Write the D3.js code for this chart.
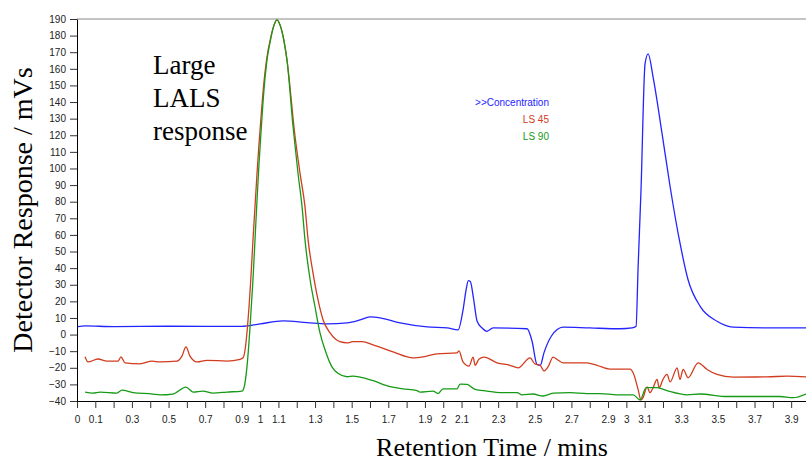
<!DOCTYPE html>
<html>
<head>
<meta charset="utf-8">
<script src="https://cdn.jsdelivr.net/npm/d3@7"></script>
<style>
  body { margin: 0; background: #fff; }
  svg { display: block; }
  .tick text { font-family: "Liberation Sans", Arial, sans-serif; font-size: 10px; fill: #222; }
  .title { font-family: "Liberation Serif", "Times New Roman", serif; fill: #000; }
</style>
</head>
<body>
<div id="chart"></div>
<script>
// retention time (mins) / detector response (mVs)
var concentration = [
    [0.005, 4.8], [0.044, 5.2], [0.2, 4.8], [0.5, 5], [0.9, 4.9], [0.999, 6.4],
    [1.125, 8.2], [1.256, 7.2], [1.365, 6.4], [1.475, 7], [1.546, 8.8], [1.600, 10.6],
    [1.655, 10], [1.764, 7], [1.912, 4.6], [2.021, 4], [2.081, 2.8], [2.108, 14.7],
    [2.125, 27], [2.137, 32.5], [2.148, 32], [2.165, 22], [2.185, 8], [2.212, 4],
    [2.239, 2], [2.272, 4], [2.458, 3.5], [2.485, -4], [2.512, -18], [2.530, -18.5],
    [2.55, -11], [2.59, -1], [2.622, 3], [2.654, 4.5], [2.8, 4], [2.966, 3.5], [3.031, 4],
    [3.053, 5], [3.064, 40], [3.080, 87], [3.102, 163], [3.119, 169], [3.146, 155],
    [3.195, 121], [3.239, 89], [3.293, 55], [3.337, 33], [3.403, 17], [3.495, 8],
    [3.583, 4.5], [3.768, 4], [3.981, 4]
];

var ls45 = [
    [0.044, -13.4], [0.060, -16.5], [0.115, -14.7], [0.164, -16], [0.224, -16], [0.240, -13.4],
    [0.262, -17], [0.344, -17.6], [0.410, -16], [0.453, -16.5], [0.546, -16], [0.573, -13],
    [0.595, -7.4], [0.617, -13], [0.655, -16.5], [0.710, -15.5], [0.819, -16], [0.890, -15],
    [0.907, -14], [0.918, -9], [0.934, 8.8], [0.950, 35], [0.961, 57], [0.972, 77],
    [0.983, 97], [0.994, 115], [1.005, 131], [1.02, 151], [1.036, 166], [1.058, 179],
    [1.075, 186], [1.092, 189.5], [1.11, 186], [1.13, 177], [1.147, 165], [1.19, 120],
    [1.218, 97], [1.245, 77], [1.262, 57], [1.289, 37], [1.316, 21], [1.344, 8.8], [1.382, 1],
    [1.436, -4.3], [1.475, -5], [1.507, -4.3], [1.557, -4.3], [1.617, -6.2], [1.726, -10.4],
    [1.835, -14], [1.890, -13.4], [1.966, -11.6], [2.075, -11], [2.086, -9.8], [2.108, -16.5],
    [2.141, -19], [2.163, -13.6], [2.174, -18.5], [2.195, -14.8], [2.223, -13.6], [2.294, -17],
    [2.365, -18.5], [2.409, -20], [2.474, -14], [2.501, -17.7], [2.529, -18.5], [2.550, -21.9],
    [2.572, -19.5], [2.600, -13.6], [2.622, -15], [2.654, -17], [2.785, -17], [2.840, -18.5],
    [2.911, -20.8], [3.020, -20.8], [3.037, -23], [3.064, -33], [3.080, -39.4], [3.091, -38],
    [3.113, -31.5], [3.129, -35], [3.146, -32], [3.168, -27], [3.179, -32], [3.200, -27],
    [3.222, -24], [3.239, -28.5], [3.277, -20], [3.293, -27], [3.310, -21], [3.337, -26],
    [3.392, -17], [3.441, -21], [3.495, -24], [3.583, -25.6], [3.768, -25.5], [3.878, -25],
    [3.981, -25.5]
];

var ls90 = [
    [0.044, -34.6], [0.087, -35.2], [0.126, -34.6], [0.218, -35.2], [0.246, -33.4], [0.306, -35],
    [0.415, -35.8], [0.453, -36.3], [0.524, -35.8], [0.595, -31.6], [0.634, -34.6], [0.688, -34],
    [0.743, -35.2], [0.819, -34.6], [0.901, -34], [0.912, -32], [0.928, -19.6], [0.945, 4.6],
    [0.961, 33], [0.972, 57], [0.983, 81], [0.994, 103], [1.005, 122], [1.02, 146],
    [1.036, 164], [1.058, 178], [1.075, 186], [1.092, 189.5], [1.11, 186], [1.13, 177],
    [1.147, 165], [1.18, 125], [1.207, 97], [1.229, 77], [1.245, 57], [1.273, 33], [1.300, 16.6],
    [1.327, 1], [1.354, -9], [1.393, -19.6], [1.425, -23.3], [1.475, -25.4], [1.507, -25],
    [1.546, -25.6], [1.617, -27.8], [1.709, -31.4], [1.780, -32.7], [1.857, -33.8], [1.873, -34.6],
    [1.944, -34], [1.972, -35.5], [1.999, -32.7], [2.075, -32.7], [2.092, -29.8], [2.130, -30],
    [2.174, -33], [2.239, -34], [2.310, -35], [2.403, -35], [2.430, -36.3], [2.490, -35.8],
    [2.545, -37], [2.600, -35.3], [2.692, -35], [2.785, -35.5], [2.856, -35.5], [2.949, -36.3],
    [3.037, -36.3], [3.075, -39.4], [3.108, -32], [3.168, -32], [3.222, -33.8], [3.332, -36.3],
    [3.403, -35.8], [3.550, -37.3], [3.692, -37.3], [3.839, -37.3], [3.911, -38], [3.981, -35.8]
];

var xLabels = [0, 0.1, 0.3, 0.5, 0.7, 0.9, 1, 1.1, 1.3, 1.5, 1.7, 1.9, 2, 2.1, 2.3, 2.5, 2.7, 2.9, 3, 3.1, 3.3, 3.5, 3.7, 3.9];
var yTicks = d3.range(-40, 191, 10);
var legendNames = [">>Concentration", "LS 45", "LS 90"];

var width = 806, height = 463;
var colors = ["#2424ff", "#d23c1e", "#169a16"];

var svg = d3.select("#chart").append("svg")
    .attr("width", width)
    .attr("height", height);

var x = d3.scaleLinear().domain([0, 3.981]).range([77, 806]);
var y = d3.scaleLinear().domain([-40, 190]).range([401, 19]);

// top border of the plot
svg.append("line")
    .attr("x1", 77).attr("x2", 806)
    .attr("y1", y(190)).attr("y2", y(190))
    .attr("stroke", "#888").attr("stroke-width", 1);

var xTicks = d3.range(0, 40).map(function (i) { return i / 10; });
var xAxis = d3.axisBottom(x)
    .tickValues(xTicks)
    .tickSizeInner(7).tickSizeOuter(0).tickPadding(8)
    .tickFormat(function (d) {
        var lbl = xLabels.find(function (v) { return Math.abs(v - d) < 1e-6; });
        return lbl === undefined ? "" : d3.format("")(lbl);
    });

var gx = svg.append("g")
    .attr("transform", "translate(0," + y(-40) + ")")
    .call(xAxis);
gx.select(".domain").attr("stroke", "#000");
gx.selectAll(".tick line").attr("stroke", "#333");

var gy = svg.append("g")
    .attr("transform", "translate(" + x(0) + ",0)")
    .call(d3.axisLeft(y).tickValues(yTicks).tickSizeInner(7).tickSizeOuter(0).tickPadding(4));
gy.select(".domain").attr("stroke", "#000");
gy.selectAll(".tick line").attr("stroke", "#333");

var line = d3.line()
    .x(function (d) { return x(d[0]); })
    .y(function (d) { return y(d[1]); })
    .curve(d3.curveMonotoneX);

[concentration, ls45, ls90].forEach(function (series, i) {
    svg.append("path")
        .datum(series)
        .attr("fill", "none")
        .attr("stroke", colors[i])
        .attr("stroke-width", 1.3)
        .attr("stroke-linejoin", "round")
        .attr("d", line);
});

// legend
svg.append("g").selectAll("text")
    .data(legendNames)
    .enter().append("text")
    .attr("x", 549)
    .attr("y", function (d, i) { return 106 + i * 17; })
    .attr("text-anchor", "end")
    .attr("fill", function (d, i) { return colors[i]; })
    .style("font-family", "'Liberation Sans', Arial, sans-serif")
    .style("font-size", "10px")
    .text(function (d) { return d; });

// annotation
svg.append("text")
    .attr("class", "title")
    .style("font-size", "27px")
    .selectAll("tspan")
    .data(["Large", "LALS", "response"])
    .enter().append("tspan")
    .attr("x", 153)
    .attr("y", function (d, i) { return 74 + i * 33; })
    .text(function (d) { return d; });

svg.append("text")
    .attr("class", "title")
    .attr("x", 492)
    .attr("y", 456)
    .attr("text-anchor", "middle")
    .style("font-size", "26px")
    .text("Retention Time / mins");

svg.append("text")
    .attr("class", "title")
    .attr("transform", "translate(32,210) rotate(-90)")
    .attr("text-anchor", "middle")
    .style("font-size", "28px")
    .text("Detector Response / mVs");
</script>
</body>
</html>
